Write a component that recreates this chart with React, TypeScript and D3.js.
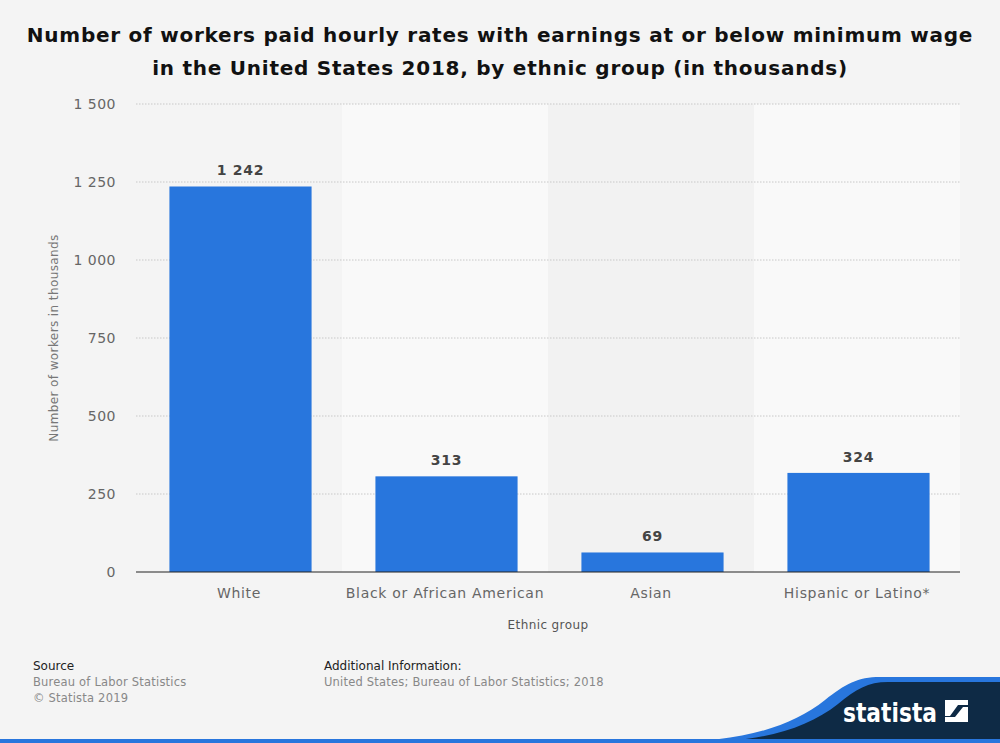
import React from "react";
import * as d3 from "d3";

const categories = ["White", "Black or African American", "Asian", "Hispanic or Latino*"];
const values = [1242, 313, 69, 324];
const yTicks = [0, 250, 500, 750, 1000, 1250, 1500];

const W = 1000, H = 743;
const M = { left: 136, right: 960, top: 104, bottom: 572 };
const FONT = "'DejaVu Sans', sans-serif";
const fmt = (v: number) => d3.format(",")(v).replace(/,/g, " ");

export default function App() {
  const x = d3.scaleBand<string>().domain(categories).range([M.left, M.right]).paddingInner(0).paddingOuter(0);
  const y = d3.scaleLinear().domain([0, 1500]).range([M.bottom, M.top]);
  const bw = x.bandwidth();
  const barW = bw * 0.69;
  return (
    <svg width={W} height={H} style={{ position: "absolute", left: 0, top: 0, fontFamily: FONT }}>
      <rect x={0} y={0} width={W} height={H} fill="#f4f4f4" />
      <text x={500} y={42} textAnchor="middle" fontSize={20} fontWeight="bold" fill="#111" letterSpacing={0.75}>
        Number of workers paid hourly rates with earnings at or below minimum wage
      </text>
      <text x={500} y={75} textAnchor="middle" fontSize={20} fontWeight="bold" fill="#111" letterSpacing={0.75}>
        in the United States 2018, by ethnic group (in thousands)
      </text>
      {categories.map((c, i) => (
        <rect key={c} x={x(c)} y={M.top} width={bw} height={M.bottom - M.top}
          fill={i % 2 === 1 ? "#f9f9f9" : i === 2 ? "#f2f2f2" : "#f4f4f4"} />
      ))}
      {yTicks.filter(t => t > 0).map(t => (
        <line key={t} x1={M.left} x2={M.right} y1={y(t)} y2={y(t)} stroke="#c8c8c8" strokeDasharray="1.5,1.5" />
      ))}
      {yTicks.map(t => (
        <text key={t} x={116} y={y(t) + 5} textAnchor="end" fontSize={14} fill="#666" letterSpacing={0.5}>{fmt(t)}</text>
      ))}
      {categories.map((c, i) => {
        const cx = (x(c) as number) + bw / 2;
        return (
          <g key={c}>
            <rect x={cx - barW / 2 + 1.5} y={y(values[i]) + 2} width={barW} height={M.bottom - y(values[i]) - 2} fill="#2876dd" />
            <text x={cx + 1.5} y={y(values[i]) - 9} textAnchor="middle" fontSize={14} fontWeight="bold" fill="#444" letterSpacing={0.7}>{fmt(values[i])}</text>
            <text x={cx} y={598} textAnchor="middle" fontSize={14} fill="#666" letterSpacing={0.7}>{c}</text>
          </g>
        );
      })}
      <line x1={M.left} x2={M.right} y1={M.bottom} y2={M.bottom} stroke="#222" strokeWidth={1.2} />
      <text x={548} y={629} textAnchor="middle" fontSize={12} fill="#555" letterSpacing={0.4}>Ethnic group</text>
      <text transform={`translate(58,${338}) rotate(-90)`} textAnchor="middle" fontSize={12} fill="#777" letterSpacing={0.4}>Number of workers in thousands</text>

      <text x={33} y={670} fontSize={12} fill="#222">Source</text>
      <text x={33} y={686} fontSize={11.5} fill="#888" letterSpacing={0.2}>Bureau of Labor Statistics</text>
      <text x={33} y={702} fontSize={11.5} fill="#888" letterSpacing={0.2}>© Statista 2019</text>
      <text x={324} y={670} fontSize={12} fill="#222">Additional Information:</text>
      <text x={324} y={686} fontSize={11.5} fill="#888" letterSpacing={0.2}>United States; Bureau of Labor Statistics; 2018</text>

      <path d="M660,743 C740,742 790,728 825,700 C845,684 858,677 880,677 L1000,677 L1000,743 Z" fill="#2876dd" />
      <path d="M690,743 C760,742 805,730 838,704 C856,689 868,682 888,682 L1000,682 L1000,743 Z" fill="#0e2a45" />
      <rect x={0} y={739} width={1000} height={4} fill="#2876dd" />
      <text x={843} y={722} fontSize={27} fontWeight="bold" fill="#fff" textLength={94} lengthAdjust="spacingAndGlyphs" fontFamily="'DejaVu Sans Condensed', 'DejaVu Sans', sans-serif">statista</text>
      <path d="M945,700 H968 V705 H958 L950,716 H945 Z" fill="#fff" />
      <path d="M968,707 V722 H945 V717 H955 L963,707 Z" fill="#fff" />
    </svg>
  );
}
